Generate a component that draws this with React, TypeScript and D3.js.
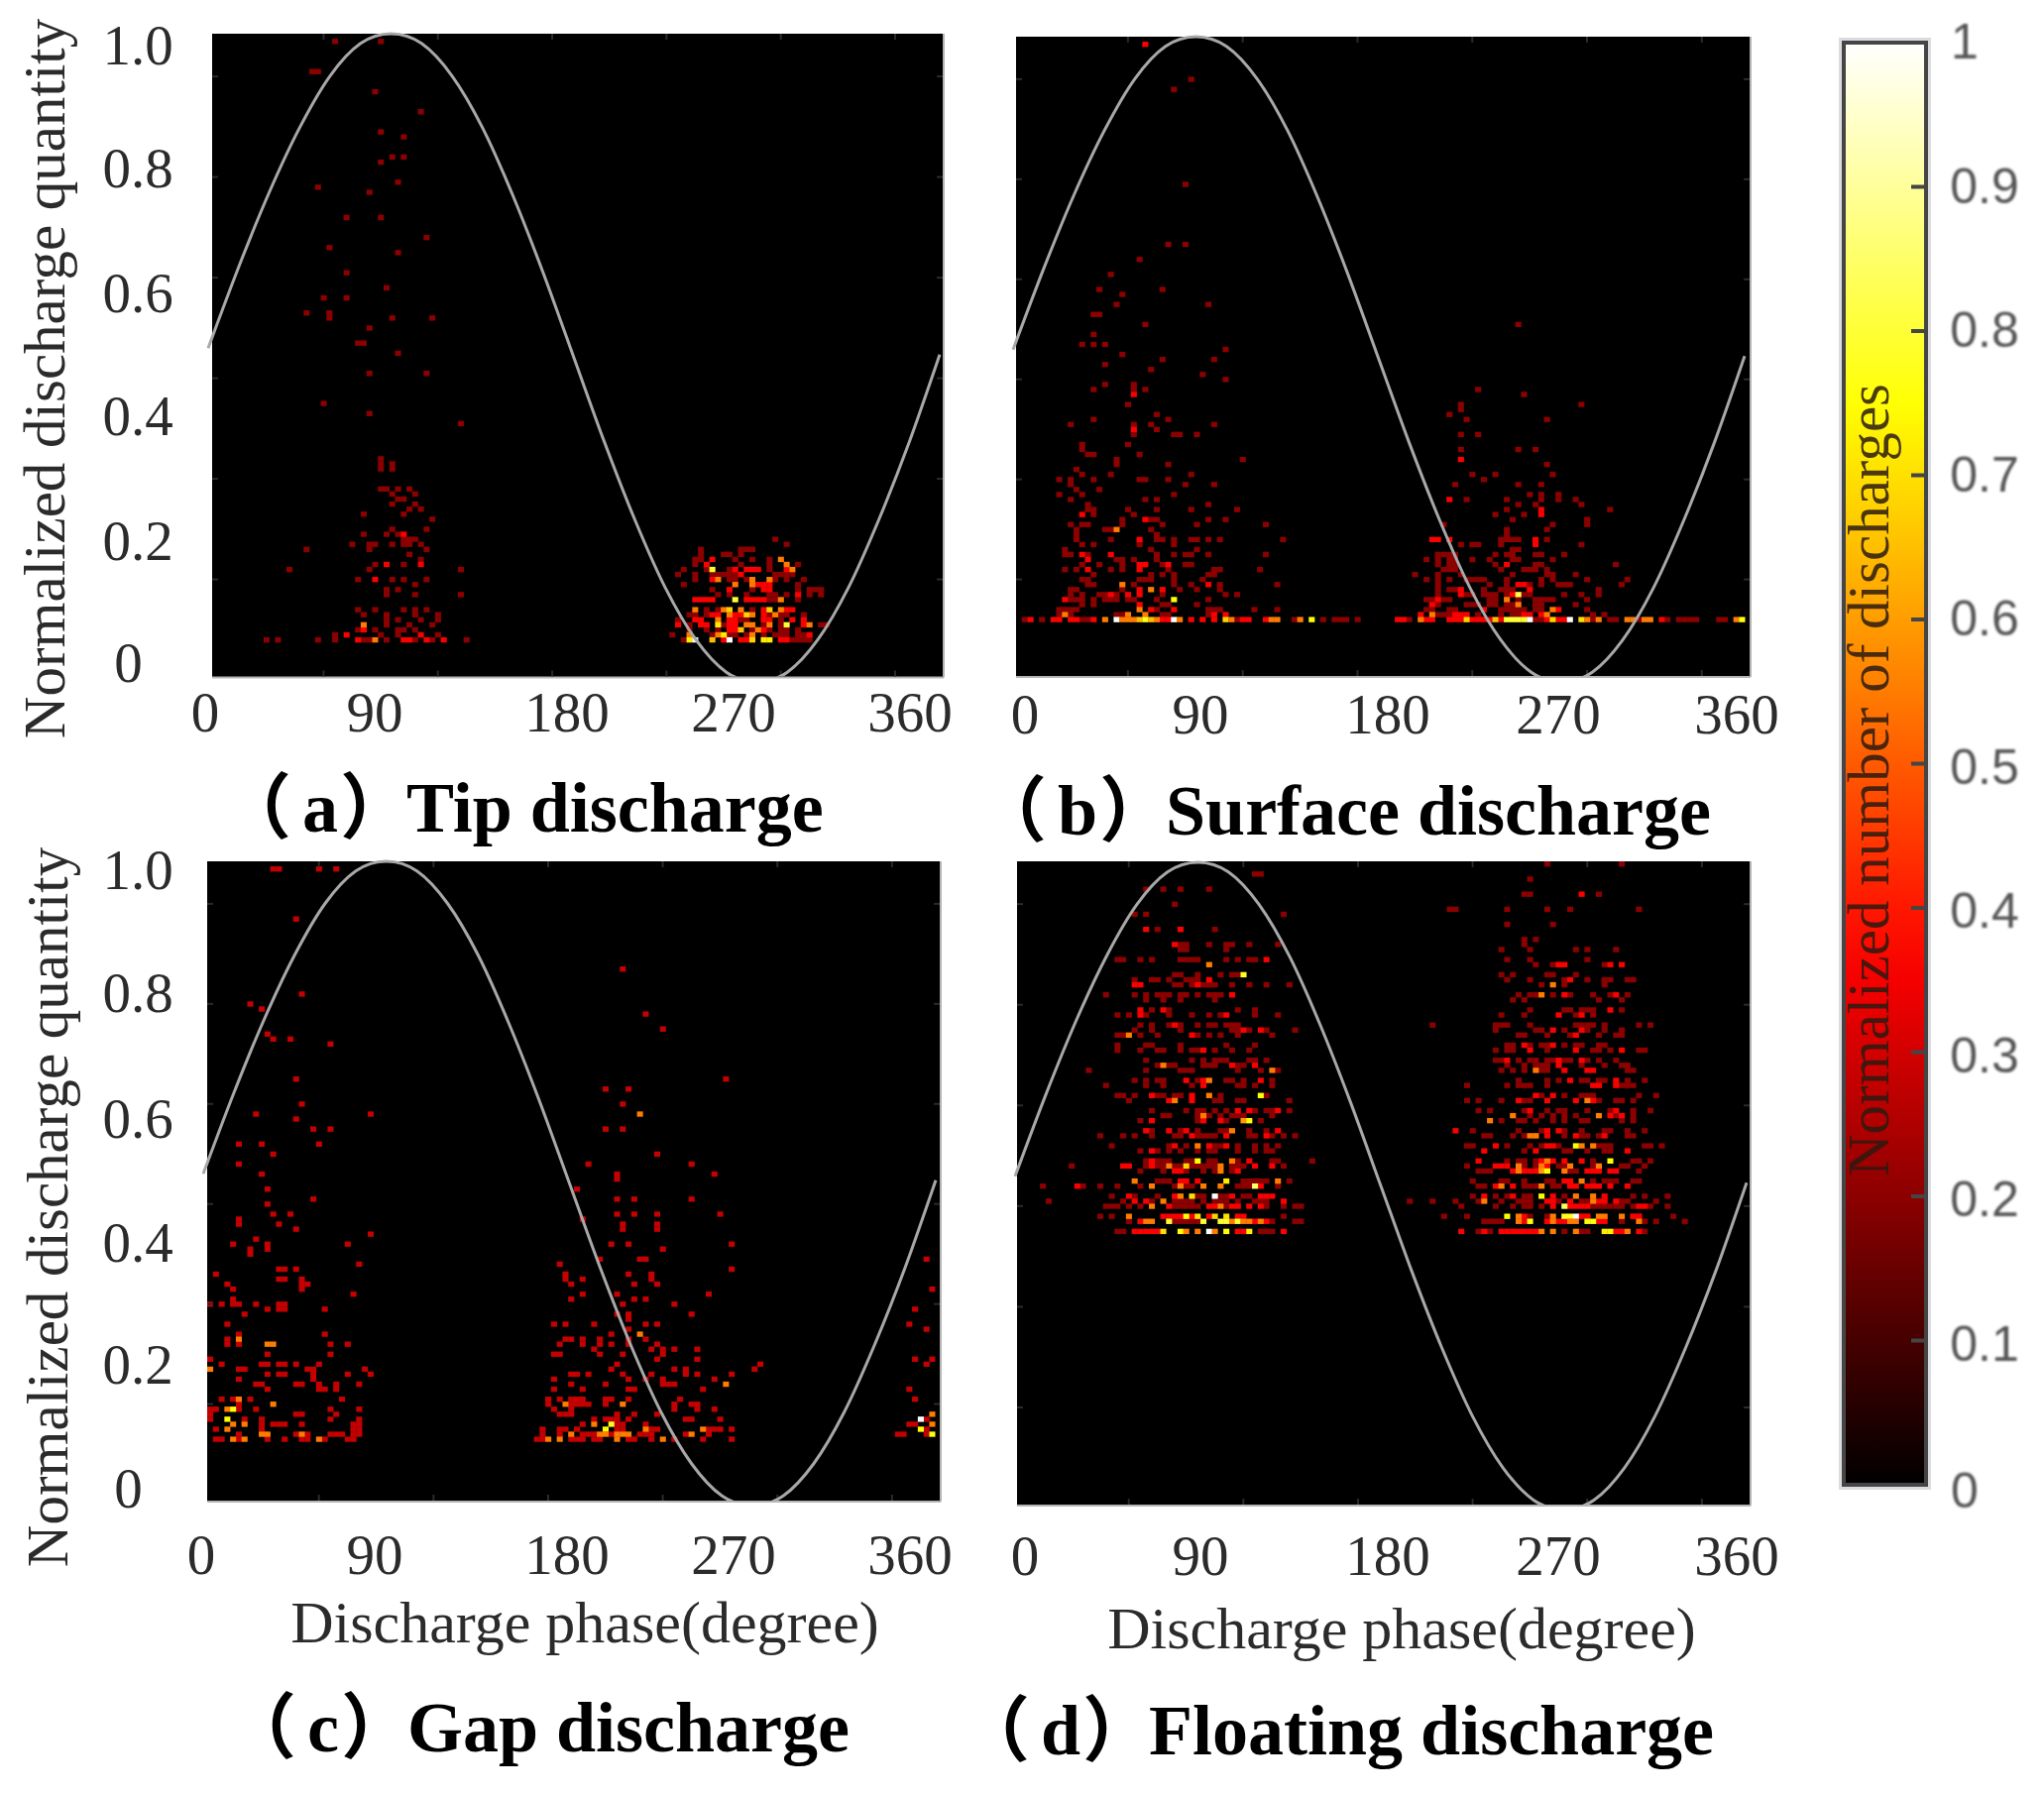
import * as React from "react";
import * as d3 from "d3";

// matrix size of the phase / quantity histogram
const binCount = 128;
const binIndex = d3.range(binCount);
const axisTickBins = [20, 40, 60, 80, 100, 120];

const phaseLabels = ["0", "90", "180", "270", "360"];
const quantityLabels = ["1.0", "0.8", "0.6", "0.4", "0.2", "0"];
const colorbarTicks = [0, 0.1, 0.2, 0.3, 0.4, 0.5, 0.6, 0.7, 0.8, 0.9, 1];

// reference voltage curve
const sinePhases = [0, 15, 30, 45, 60, 75, 90, 105, 120, 135, 150, 165, 180, 195, 210, 225, 240, 255, 270, 285, 300, 315, 330, 345, 360];
const sineLevels = [0.515, 0.64, 0.755, 0.855, 0.935, 0.985, 1, 0.985, 0.935, 0.855, 0.75, 0.63, 0.5, 0.37, 0.25, 0.145, 0.065, 0.015, 0, 0.015, 0.065, 0.145, 0.25, 0.37, 0.505];

// cells: [quantity bin, phase bin, phase bin, ...]
const tipDim = [
  [126, 21, 29], [120, 17, 18], [116, 28], [112, 36], [108, 29], [107, 33], [103, 31, 33], [102, 29], [98, 32], [97, 18], [96, 27], [91, 23, 29], [87, 37], [85, 20], [84, 32], [80, 23], [77, 30], [75, 19, 23], [72, 16, 20], [71, 20, 31, 38], [69, 27], [66, 25, 26], [64, 32], [60, 27, 37], [54, 19], [52, 27], [50, 43], [43, 29], [42, 29, 31], [41, 29, 31],
  [37, 29, 30, 32, 34], [36, 31, 35], [35, 32, 33], [34, 31, 35], [33, 34, 36], [32, 26, 33], [31, 38], [29, 31, 37], [28, 26, 30, 32], [27, 33, 34, 35], [26, 24, 27, 28, 31, 33, 34, 36], [25, 16, 27, 37], [24, 34], [23, 36], [22, 28, 33], [21, 13, 27, 43], [19, 25, 31, 33, 37], [18, 35], [17, 30, 32], [16, 30, 35, 43], [13, 25, 28, 33, 35, 37], [12, 26, 30, 35, 39], [11, 30, 32, 36, 39], [10, 30, 34, 38], [9, 25, 28, 32, 33, 35], [8, 21, 29, 32, 39], [7, 9, 11, 18, 21, 26, 27, 30, 35, 38, 44],
  [27, 98], [26, 100], [25, 85, 92, 93, 94], [24, 85, 89, 90, 92], [23, 84, 85, 91, 94, 97], [22, 84, 92, 97, 102], [21, 82, 86, 90, 97], [20, 81, 84, 87, 88, 89, 90, 91, 98, 99, 100, 101], [19, 84, 90, 91, 93, 98, 100, 103], [18, 82, 102], [17, 87, 94, 102, 104, 105, 106], [16, 88, 90, 93, 97, 98, 100, 104, 106], [15, 97, 98, 102], [13, 86, 88, 94], [12, 83, 84, 86, 97, 99, 100, 103], [11, 81, 92, 93, 99], [10, 83, 89, 96, 99, 106, 107], [9, 83, 86, 88, 94, 97, 99, 100, 102], [8, 80, 87, 90, 91, 93, 96, 98, 99, 100, 102, 103], [7, 82, 101, 102, 103, 104],
];
const tipRed = [
  [28, 33], [22, 30, 36], [19, 28], [9, 26], [8, 23, 36], [7, 25, 33, 34, 37, 40],
  [23, 87], [22, 86], [21, 91, 93, 94, 95, 100], [20, 92], [19, 87], [18, 95, 96, 97], [17, 90, 96, 97], [16, 102], [15, 84, 85, 86, 87, 93, 94, 95, 96], [13, 96, 100, 101], [12, 87, 88, 91, 92, 96], [11, 84, 85, 90, 91, 96, 97, 101, 103], [10, 81, 85, 86, 90, 91, 103], [9, 90, 91, 96], [8, 104], [7, 89, 92, 93, 99, 100],
];
// [quantity bin, phase bin, level]
const tipHot = [
  [10, 26, 0.55], [7, 28, 0.55],
  [23, 99, 0.55], [22, 100, 0.55], [21, 87, 0.78], [21, 101, 0.55], [19, 88, 0.55], [19, 94, 0.55], [19, 97, 0.55], [18, 91, 0.55], [18, 94, 0.55], [15, 91, 0.8], [15, 99, 0.55], [13, 84, 0.55], [13, 89, 0.55], [13, 90, 0.68], [13, 92, 0.55], [13, 97, 0.68], [13, 99, 0.55], [12, 90, 0.55], [12, 93, 0.68], [12, 94, 0.55], [12, 98, 0.55], [11, 88, 0.55], [10, 88, 0.72], [10, 93, 0.55], [10, 94, 0.55], [10, 97, 0.55], [10, 100, 0.8], [10, 104, 0.55], [9, 92, 0.65], [9, 95, 0.55], [8, 83, 0.55], [8, 88, 0.55], [8, 89, 0.72], [8, 94, 0.55], [7, 83, 0.72], [7, 84, 1], [7, 87, 0.65], [7, 90, 1], [7, 94, 0.68], [7, 96, 0.72], [7, 97, 0.72],
];

const surfaceDim = [
  [119, 30], [117, 27], [98, 29], [86, 26, 29], [83, 21], [80, 16], [77, 14, 25], [76, 18], [74, 17, 33], [72, 13, 14], [70, 22, 87],
  [68, 13], [66, 11, 13, 15], [65, 36], [64, 18], [63, 25, 34], [62, 15], [61, 23], [60, 32], [59, 36], [58, 15, 20], [57, 13, 20, 22], [54, 19], [52, 24], [51, 13, 26], [50, 9, 20, 23, 34], [49, 24], [48, 20, 27, 28, 31], [46, 11, 19], [45, 11], [44, 12, 13, 21], [43, 17, 39], [42, 17, 26], [41, 10], [40, 11, 16, 30], [39, 7, 9, 13, 21, 22, 26], [38, 9, 29, 34], [37, 10, 14], [36, 7, 11, 27], [35, 9, 22, 24], [34, 12, 33], [33, 12, 13, 19, 24, 30, 38], [32, 13, 20], [31, 18, 23, 24, 33, 36], [30, 9, 11, 12, 18, 25, 31, 43], [29, 10, 15, 16, 23], [28, 10, 24], [27, 10, 16, 24, 25, 27, 30, 31, 33, 35, 46], [26, 11, 13, 21, 27], [25, 8, 23, 31], [24, 8, 9, 12, 24, 27, 29, 30, 33, 43], [23, 17, 18, 20, 24], [22, 11, 14, 18, 25, 29, 30], [21, 8, 10, 16, 18, 26, 34, 35, 42], [20, 13, 23, 25, 27, 33, 34], [19, 11, 12, 21, 22, 23, 27, 32], [18, 12, 13, 20, 27, 30, 35, 45], [17, 9, 10, 18, 28, 31, 35], [16, 9, 11, 14, 15, 17, 25, 36, 38], [15, 9, 10, 11, 13, 15, 16, 17, 19, 20, 24, 33], [14, 11, 13, 25, 26, 31], [13, 7, 8, 9, 10, 24, 33, 34, 35, 41, 45], [12, 7, 9, 17, 18, 25, 26, 33], [11, 1, 4, 11, 12, 38, 48, 53, 55, 56, 57, 59],
  [57, 80], [56, 88], [54, 77, 98], [53, 77], [52, 75], [51, 78, 92], [48, 77, 80], [45, 77, 87, 90], [42, 92], [40, 79, 83, 93], [39, 81], [38, 76, 87, 91], [36, 89, 91, 94], [35, 78, 85, 91, 94, 97], [34, 87, 90, 98], [33, 85, 103], [32, 83, 88], [31, 86, 99], [30, 74, 93, 99], [29, 85, 92], [28, 85], [27, 84, 85, 86, 87, 92], [26, 77, 79, 80, 84, 98], [25, 86, 87], [24, 73, 74, 75, 76, 83, 85, 86, 90, 91, 95], [23, 71, 73, 75, 76, 79, 82, 86, 87, 93], [22, 73, 75, 76, 83, 90, 91, 104], [21, 74, 75, 76, 84, 88, 89, 90, 92], [20, 69, 73, 77, 86, 92, 93, 97], [19, 71, 73, 75, 78, 79, 80, 81, 85, 91, 93, 99, 106], [18, 73, 82, 85, 89, 91, 94, 95, 96, 105], [17, 73, 75, 76, 81, 84, 85, 86, 101], [16, 73, 78, 79, 81, 82, 83, 85, 88, 89, 95, 98, 101], [15, 71, 72, 74, 75, 82, 83, 87, 90, 91, 92, 93, 99], [14, 73, 78, 79, 80, 82, 83, 85, 86, 90, 91, 97], [13, 71, 72, 75, 76, 84, 85, 86, 87, 88, 90, 91, 99], [12, 73, 74, 75, 76, 80, 84, 86, 87, 100, 102], [11, 68, 90, 91, 100, 103, 104, 108, 113, 115, 116, 117, 118, 122, 123],
];
const surfaceRed = [
  [126, 22], [56, 20], [49, 20], [32, 11], [31, 22], [27, 21], [24, 11, 16], [23, 12], [22, 21, 22, 26], [21, 12, 21], [18, 33], [17, 21, 25], [16, 16, 19, 21], [15, 8], [14, 21], [13, 23, 27], [12, 34, 36], [11, 2, 6, 7, 9, 10, 13, 25, 26, 30, 32, 34, 39, 40, 43],
  [43, 77], [35, 75], [33, 91], [32, 91], [27, 72, 73, 75, 90], [26, 90], [22, 85], [18, 87, 88], [17, 77, 89], [16, 77, 86], [15, 73], [14, 72], [13, 81, 94], [12, 70, 76, 77, 78, 88, 89, 91], [11, 66, 67, 71, 72, 75, 76, 77, 79, 80, 81, 82, 84, 92, 94, 95, 112],
];
const surfaceHot = [
  [29, 17, 0.55], [18, 18, 0.55], [17, 23, 0.55], [15, 27, 0.75], [13, 21, 0.55], [12, 8, 0.55], [12, 19, 0.55], [12, 22, 0.55],
  [11, 15, 0.55], [11, 17, 1], [11, 18, 0.55], [11, 19, 0.55], [11, 20, 0.55], [11, 21, 0.65], [11, 22, 0.78], [11, 23, 0.65], [11, 24, 0.55], [11, 27, 1], [11, 28, 0.55], [11, 36, 0.68], [11, 37, 0.55], [11, 44, 0.55], [11, 45, 0.55], [11, 49, 0.55], [11, 51, 0.75],
  [16, 87, 0.82], [15, 85, 0.55], [14, 87, 0.55], [13, 93, 0.55], [12, 72, 0.55], [12, 92, 0.55],
  [11, 70, 0.55], [11, 78, 0.68], [11, 83, 0.65], [11, 85, 0.8], [11, 86, 0.8], [11, 87, 0.8], [11, 88, 0.78], [11, 89, 1], [11, 93, 0.68], [11, 96, 1], [11, 98, 0.7], [11, 99, 0.55], [11, 101, 0.55], [11, 106, 0.55], [11, 107, 0.55], [11, 109, 0.55], [11, 110, 0.55], [11, 125, 0.55], [11, 126, 0.75],
];

const gapDim = [
  [126, 11, 12, 19, 22], [116, 15], [101, 16], [99, 7], [98, 9], [93, 10], [92, 11, 14], [91, 21], [84, 15], [79, 16], [77, 8, 28], [76, 15], [74, 18, 21], [71, 5, 9, 19], [69, 11], [67, 5], [65, 9], [62, 10], [60, 18], [59, 10], [57, 11, 14], [56, 5], [55, 5, 12],
  [106, 72], [97, 76], [94, 79], [84, 90], [82, 69, 73], [79, 72], [74, 69, 72], [69, 78], [67, 66, 84], [65, 88, 71], [64, 71], [62, 64], [60, 84, 71, 74], [57, 71, 74, 78, 89], [56, 65], [55, 72, 78],
  [54, 15, 72, 78], [53, 28], [52, 8], [51, 4, 10, 24, 70, 73, 91], [50, 7, 10, 79], [49, 7], [48, 68, 75, 76], [47, 26, 61], [46, 12, 13, 15, 91], [45, 1, 62, 73, 77], [44, 12, 13, 16, 62, 65, 77], [43, 3, 16, 17, 63, 74, 78], [42, 4, 16], [41, 25, 65, 71, 87], [40, 4, 63, 74, 76], [39, 0, 2, 4, 5, 8, 12, 13, 72, 81], [38, 10, 12, 13, 20], [37, 6, 71, 73, 84], [36, 73], [35, 3, 60, 62, 67, 76, 78], [34, 73], [33, 5, 20, 70], [32, 3, 62, 63, 65, 68, 73, 76], [31, 3, 5, 21, 24, 61, 65, 68, 70, 73, 78], [30, 67, 77, 79, 81, 85], [29, 10, 21, 60, 61, 68, 72, 79], [28, 0, 78, 85], [27, 2, 9, 10, 12, 13, 15, 19, 71, 96], [26, 5, 6, 17, 18, 27, 70, 81, 83, 95], [25, 10, 12, 13, 18, 24, 28, 63, 64, 66, 72, 77, 83, 85, 91], [24, 5, 18, 60, 73, 76, 79, 88], [23, 8, 9, 15, 16, 19, 22, 26, 63, 69, 79, 80, 81], [22, 10, 19, 20, 22, 60, 65, 73, 74, 86], [20, 2, 4, 7, 23, 59, 61, 63, 64, 65, 69, 70, 73, 82], [19, 5, 59, 63, 64, 65, 66, 69, 81, 84, 85], [18, 0, 1, 5, 8, 21, 26, 60, 63, 81, 85, 88], [17, 0, 15, 16, 22, 61, 62, 63, 71, 74, 78], [16, 0, 6, 9, 21, 26, 67, 69, 70, 71, 73, 83, 84, 89], [15, 9, 11, 12, 13, 16, 25, 26, 65, 71, 72, 76], [14, 1, 9, 25, 26, 58, 61, 62, 64, 71, 72, 77, 78, 87, 88, 89, 91], [13, 5, 15, 17, 21, 22, 23, 25, 26, 58, 61, 65, 66, 67, 70, 75, 76, 77, 83, 87], [12, 1, 2, 5, 10, 13, 16, 17, 20, 24, 25, 57, 58, 63, 64, 65, 68, 67, 73, 74, 77, 81, 86, 91],
  [48, 125], [42, 126], [38, 123], [35, 122], [34, 125], [28, 123, 126], [27, 125], [22, 122], [20, 123], [16, 125], [15, 122, 123], [14, 125], [13, 120, 121, 125],
];
const gapRed: number[][] = [];
const gapHot = [
  [33, 75, 0.55], [32, 5, 0.55], [31, 10, 0.55], [31, 11, 0.55], [77, 75, 0.55], [26, 0, 0.55], [23, 90, 0.55], [20, 5, 0.55], [19, 11, 0.55], [19, 62, 0.55], [19, 72, 0.55], [18, 3, 0.55], [18, 4, 0.76], [16, 3, 0.75], [15, 4, 0.55], [15, 6, 0.55], [15, 67, 0.55], [15, 70, 0.78], [14, 3, 0.55], [14, 69, 0.75], [14, 76, 0.55], [14, 86, 0.55], [13, 9, 0.55], [13, 10, 0.55], [13, 16, 0.55], [13, 63, 0.55], [13, 68, 0.55], [13, 69, 0.55], [13, 71, 0.55], [13, 72, 0.55], [13, 73, 0.55], [13, 84, 0.55], [12, 4, 0.55], [12, 6, 0.55], [12, 19, 0.55], [12, 59, 0.55], [12, 61, 0.55], [12, 71, 0.55], [12, 79, 0.55],
  [16, 124, 1], [17, 126, 0.55], [15, 126, 0.55], [14, 124, 0.76], [13, 126, 0.76],
];

const floatingDim = [
  [127, 92, 105], [125, 41, 42], [122, 22, 25, 28, 33], [119, 27], [117, 20, 22, 46], [114, 24, 34], [111, 28, 29, 33, 36, 37, 40, 45], [110, 28, 29, 36], [108, 17, 18, 21, 23, 28, 29, 30, 31, 36, 38, 40, 41], [105, 27, 28, 31, 35, 37, 38], [104, 20, 23, 24, 26, 29, 30, 31], [103, 27, 28, 30, 32, 33, 34, 37, 40, 43, 47], [101, 15, 20, 22, 24, 25, 26, 28, 29, 31, 33, 34, 35], [100, 22, 25, 28, 34], [98, 23, 26, 38, 41], [97, 17, 19, 22, 26, 30, 33, 35, 41, 45], [95, 21, 23, 26, 28, 31, 33, 34, 36, 37, 38], [94, 20, 23, 28, 37, 38, 40, 43, 48], [93, 17, 18, 21, 24, 31, 33, 35, 38, 44], [91, 17, 22, 23, 28, 36, 41], [90, 17, 21, 24, 25, 28, 30, 31, 34, 37, 40], [88, 22, 30, 32, 34, 35, 36, 40, 41, 43], [87, 24, 26, 27, 32, 33, 34, 38, 39], [86, 12, 22, 28, 29, 30, 38, 42, 45], [84, 20, 22, 24, 25, 31, 36, 37, 39, 44], [83, 15, 22, 25, 30, 38, 39, 41, 44], [81, 17, 18, 20, 24, 25, 27, 28, 35, 43], [80, 19, 34, 35, 38, 39, 47], [78, 23, 29, 31, 32, 34, 36, 41, 43, 44, 47], [77, 25, 26, 31, 33, 35, 37, 38, 39, 44], [76, 21, 31, 36, 42], [74, 23, 28, 31, 35, 36, 40, 43], [73, 14, 18, 20, 23, 27, 28, 31, 32, 33, 34, 40, 41, 44, 46, 48], [71, 16, 26, 29, 34, 35, 38, 41, 43, 45], [70, 21, 24, 26, 28, 31, 33, 34, 38, 41, 43, 44], [68, 22, 24, 25, 26, 29, 30, 33, 34, 38, 44, 45, 51], [67, 9, 22, 24, 25, 27, 28, 30, 31, 32, 33, 34, 37, 38, 39, 46], [66, 21, 25, 29, 32, 34, 37], [64, 24, 25, 26, 39, 40, 41, 42, 43, 47], [63, 4, 11, 14, 17, 21, 27, 29, 30, 38, 39, 40, 45], [61, 16, 20, 24, 31, 32, 35, 36, 39, 40], [60, 5, 18, 23, 27, 28, 29, 30, 32, 34, 35, 36, 38, 41, 42, 43], [59, 15, 16, 17, 19, 21, 27, 28, 29, 30, 31, 36, 43, 46, 48, 49], [57, 14, 16, 46], [56, 19, 27, 28, 29, 30, 31, 44, 48, 49], [54, 17, 18, 42, 43, 44],
  [124, 89], [121, 88, 89, 101], [118, 75, 76, 85, 92, 96, 108], [115, 85, 93], [112, 88, 90], [111, 88], [110, 84, 89, 97, 99, 104], [108, 85, 89, 99], [107, 90, 93, 102, 94], [105, 84, 86, 92, 93, 97], [104, 85, 89, 95, 99, 102, 103, 106, 107], [103, 91, 95, 102], [101, 87, 89, 90, 93, 96, 100, 103, 106], [100, 86, 88, 101, 105], [98, 89, 95, 96, 98, 99, 100, 105], [97, 84, 88, 97, 100], [95, 72, 83, 84, 85, 89, 97, 98, 99, 100, 102, 108, 110], [94, 83, 90, 91, 95, 99, 102, 105], [93, 87, 88, 92, 96, 101, 104, 105], [91, 85, 86, 89, 91, 92, 95, 97, 98, 101, 102], [90, 83, 85, 86, 92, 100, 101, 103, 108, 109], [88, 83, 84, 87, 89, 90, 92, 93, 95, 96, 99, 101, 104], [87, 85, 88, 90, 91, 92, 98, 102, 105, 106], [86, 84, 86, 88, 91, 92, 106, 107], [84, 87, 92, 94, 98, 99, 101, 102, 106, 109], [83, 78, 85, 87, 88, 89, 92, 105, 106, 107], [81, 91, 95, 98, 99, 100, 108, 111], [80, 78, 80, 84, 88, 89, 101, 104, 105, 107], [78, 80, 82, 88, 92, 94, 95, 99, 103, 107, 110], [77, 89, 91, 93, 95, 97, 104, 107], [76, 84, 87, 88, 90, 93, 95, 98, 99, 105, 107], [74, 79, 87, 91, 95, 98, 102, 103, 106, 109], [73, 81, 82, 86, 88, 90, 95, 98, 99, 101, 106, 107], [71, 78, 79, 85, 89, 91, 94, 101, 102, 103, 109, 110, 112], [70, 88, 95, 96, 99, 102, 103], [68, 85, 87, 88, 90, 100, 107, 108, 110], [67, 78, 88, 90, 94, 95, 100, 105, 106, 109], [66, 80, 81, 82, 96, 97, 108], [64, 79, 84, 85, 88, 92, 93, 100, 102, 103, 104, 107, 108], [63, 80, 81, 88, 89, 90, 93, 94], [61, 79, 83, 85, 88, 89, 95, 107, 109, 113], [60, 68, 72, 76, 80, 84, 87, 88, 89, 94, 98, 99, 105, 106, 111], [59, 77, 83, 86, 88, 89, 91, 100, 101, 102, 103, 104, 105, 107, 110, 113], [57, 74, 78, 89, 92, 98, 99, 107, 108, 114], [56, 81, 82, 83, 84, 105, 109, 111, 116], [54, 80, 82, 95, 98, 99, 109],
];
const floatingRed = [
  [114, 22, 28], [111, 27], [108, 43], [104, 33], [103, 20, 21, 31], [101, 37], [98, 21, 25], [97, 21, 36], [95, 27], [94, 39, 42], [93, 30], [90, 32], [87, 37, 41], [84, 29, 32, 42], [83, 32], [81, 23, 30], [80, 26, 30], [78, 38, 40, 45], [76, 23, 32, 35], [74, 22, 26, 29, 45], [73, 30, 36, 43], [71, 27, 33, 36], [70, 23], [68, 23, 40], [67, 18, 19, 23, 41, 44], [66, 27, 28, 38], [64, 28, 29, 31], [63, 10, 42], [61, 19, 27, 37, 42, 43, 44], [60, 20, 22, 46], [59, 26, 33, 34, 37, 38, 40, 42], [57, 25, 26, 27, 28, 30, 33, 38, 39], [56, 21, 41, 43], [54, 20, 21, 22, 23, 24, 38, 39, 46],
  [121, 98], [107, 94, 95, 103, 105], [104, 96], [101, 95, 104], [98, 103], [97, 94, 98], [94, 93, 98], [93, 97], [91, 88, 93], [90, 89, 97, 105], [88, 85, 94, 98], [87, 94], [86, 95, 99, 100], [84, 96, 104], [83, 100, 101, 104], [81, 90, 93], [80, 87, 92, 97, 100], [78, 89, 104], [77, 103, 105], [74, 76, 92, 94], [73, 92, 97, 102], [71, 83, 92, 93], [70, 81, 90, 106], [68, 80, 91, 93, 95, 98], [67, 83, 84, 85, 92], [66, 86, 88, 89, 90, 99, 100, 101, 103, 104], [64, 95, 96], [63, 83, 86, 96, 97, 99, 100, 101, 103, 106], [61, 81, 86, 93, 102], [60, 92, 93, 96, 101, 102, 104], [59, 93, 96, 97, 98, 99, 108, 109], [57, 88, 98, 99, 107, 108], [56, 88, 92, 94, 95, 101, 102], [54, 77, 81, 84, 85, 86, 87, 88, 89, 90, 104, 105, 108],
];
const floatingHot = [
  [107, 33, 0.55], [105, 39, 0.78], [93, 19, 0.55], [87, 25, 0.55], [86, 44, 0.55], [84, 33, 0.55], [81, 33, 0.55], [81, 42, 0.75], [80, 27, 0.55], [77, 32, 0.55], [76, 39, 0.6], [76, 40, 0.75], [74, 37, 0.55], [71, 31, 0.55], [68, 31, 0.75], [68, 37, 0.55], [67, 26, 0.55], [67, 29, 0.68], [67, 35, 0.55], [66, 35, 0.55], [64, 20, 0.55], [64, 36, 0.72], [64, 45, 0.55], [63, 23, 0.55], [63, 28, 0.55], [63, 32, 0.55], [63, 35, 0.55], [63, 41, 0.85], [61, 28, 0.55], [61, 30, 0.7], [61, 34, 1], [60, 25, 0.55], [59, 23, 0.55], [59, 35, 0.55], [57, 19, 0.55], [57, 29, 0.75], [57, 31, 0.7], [57, 34, 0.68], [57, 36, 0.7], [56, 22, 0.55], [56, 23, 0.55], [56, 26, 0.8], [56, 32, 0.8], [56, 35, 0.8], [56, 36, 0.8], [56, 37, 0.55], [56, 38, 0.8], [56, 39, 0.55], [56, 40, 0.55], [56, 42, 0.55], [54, 25, 0.7], [54, 28, 0.75], [54, 29, 0.55], [54, 31, 0.55], [54, 33, 1], [54, 34, 0.55], [54, 36, 0.75], [54, 40, 0.72],
  [103, 93, 0.55], [101, 91, 0.55], [86, 90, 0.55], [80, 99, 0.55], [77, 86, 0.55], [77, 101, 0.55], [76, 82, 0.55], [73, 89, 0.55], [73, 90, 0.55], [71, 97, 0.75], [71, 98, 0.55], [71, 100, 0.55], [68, 92, 0.55], [68, 103, 0.75], [67, 87, 0.55], [67, 91, 0.55], [67, 96, 0.55], [67, 101, 0.55], [66, 87, 0.55], [66, 91, 0.6], [66, 92, 0.75], [66, 95, 0.55], [64, 98, 0.55], [63, 84, 0.55], [63, 91, 0.55], [61, 91, 0.75], [61, 97, 0.55], [61, 100, 0.55], [60, 81, 0.55], [60, 100, 0.55], [59, 95, 0.85], [57, 85, 0.75], [57, 87, 0.55], [57, 93, 0.55], [57, 95, 0.78], [57, 96, 0.78], [57, 97, 1], [57, 101, 0.55], [57, 102, 0.55], [57, 105, 0.55], [56, 87, 0.55], [56, 89, 0.76], [56, 93, 0.55], [56, 96, 0.55], [56, 97, 0.55], [56, 99, 0.76], [56, 100, 0.76], [56, 108, 0.55], [54, 91, 0.55], [54, 93, 0.55], [54, 97, 0.55], [54, 102, 0.72], [54, 103, 0.72], [54, 106, 0.55],
];

const hotColor = d3.scaleLinear<string>().domain([0, 0.365, 0.746, 1]).range(["#000000", "#ff0000", "#ffff00", "#ffffff"]);

const serif = "'Liberation Serif', 'Noto Sans CJK SC', serif";
const textColor = "#2b2b2b";

const panels = [
  {
    id: "tip", dim: tipDim, red: tipRed, hot: tipHot, dimLevel: 0.2,
    x0: 214, x1: 952, y0: 34, y1: 683.5, sineX0: 210, sineX1: 948, sineY0: 34, sineY1: 688,
    phaseX: [207, 378, 572, 740, 918], phaseY: 719,
    quantityY: [46, 170, 296, 420, 546, 669], showQuantity: true,
    labelY: 22 + 360, labelX: 65, phaseTitle: null,
    tag: "a", title: "Tip discharge", titleX: 230, titleY: 839,
  },
  {
    id: "surface", dim: surfaceDim, red: surfaceRed, hot: surfaceHot, dimLevel: 0.2,
    x0: 1025, x1: 1766, y0: 37, y1: 683, sineX0: 1022, sineX1: 1760, sineY0: 37, sineY1: 688,
    phaseX: [1034, 1211, 1400, 1572, 1752], phaseY: 721,
    quantityY: [], showQuantity: false,
    labelY: 0, labelX: 0, phaseTitle: null,
    tag: "b", title: "Surface discharge", titleX: 992, titleY: 842,
  },
  {
    id: "gap", dim: gapDim, red: gapRed, hot: gapHot, dimLevel: 0.28,
    x0: 209, x1: 949, y0: 869, y1: 1515, sineX0: 205, sineX1: 944, sineY0: 869, sineY1: 1519,
    phaseX: [203, 378, 572, 740, 918], phaseY: 1569,
    quantityY: [878, 1002, 1129, 1254, 1377, 1502], showQuantity: true,
    labelY: 857 + 361, labelX: 68, phaseTitle: { x: 590, y: 1657 },
    tag: "c", title: "Gap discharge", titleX: 235, titleY: 1767,
  },
  {
    id: "floating", dim: floatingDim, red: floatingRed, hot: floatingHot, dimLevel: 0.2,
    x0: 1026, x1: 1766, y0: 869, y1: 1519, sineX0: 1024, sineX1: 1762, sineY0: 870, sineY1: 1523,
    phaseX: [1034, 1211, 1400, 1572, 1752], phaseY: 1570,
    quantityY: [], showQuantity: false,
    labelY: 0, labelX: 0, phaseTitle: { x: 1414, y: 1663 },
    tag: "d", title: "Floating discharge", titleX: 975, titleY: 1770,
  },
];

function Panel({ p }: { p: (typeof panels)[number] }) {
  const x = d3.scaleBand<number>().domain(binIndex).range([p.x0, p.x1]);
  const y = d3.scaleBand<number>().domain(binIndex).range([p.y1, p.y0]);
  const sineX = d3.scaleLinear().domain([0, 360]).range([p.sineX0, p.sineX1]);
  const sineY = d3.scaleLinear().domain([0, 1]).range([p.sineY1, p.sineY0]);
  const sine = d3.line<number>()
    .x((_, i) => sineX(sinePhases[i]))
    .y((d) => sineY(d))
    .curve(d3.curveCardinal.tension(0.1));

  const cells: { row: number; col: number; level: number }[] = [];
  p.dim.forEach(([row, ...cols]) => cols.forEach((col) => cells.push({ row, col, level: p.dimLevel })));
  p.red.forEach(([row, ...cols]) => cols.forEach((col) => cells.push({ row, col, level: 0.36 })));
  p.hot.forEach(([row, col, level]) => cells.push({ row, col, level }));

  return (
    <g>
      <rect x={p.x0} y={p.y0} width={p.x1 - p.x0} height={p.y1 - p.y0} fill="#000" />
      {cells.map((c, i) => (
        <rect key={i} x={x(c.col)} y={y(c.row)} width={x.bandwidth() + 0.3} height={y.bandwidth() + 0.3} fill={hotColor(c.level)} />
      ))}
      <line x1={p.x1} x2={p.x1} y1={p.y0} y2={p.y1} stroke="#b5b5b5" strokeWidth={2} />
      <line x1={p.x0} x2={p.x1} y1={p.y1} y2={p.y1} stroke="#b5b5b5" strokeWidth={2} />
      {axisTickBins.map((t) => (
        <g key={t} stroke="#2a2a2a" strokeWidth={2}>
          <line x1={x(t - 1)! + x.bandwidth() / 2} x2={x(t - 1)! + x.bandwidth() / 2} y1={p.y1 - 1} y2={p.y1 - 7} />
          <line x1={x(t - 1)! + x.bandwidth() / 2} x2={x(t - 1)! + x.bandwidth() / 2} y1={p.y0} y2={p.y0 + 6} />
          <line x1={p.x0} x2={p.x0 + 6} y1={y(t - 1)! + y.bandwidth() / 2} y2={y(t - 1)! + y.bandwidth() / 2} />
          <line x1={p.x1 - 1} x2={p.x1 - 7} y1={y(t - 1)! + y.bandwidth() / 2} y2={y(t - 1)! + y.bandwidth() / 2} />
        </g>
      ))}
      <clipPath id={`clip-${p.id}`}>
        <rect x={p.x0 - 20} y={p.y0 - 2} width={p.x1 - p.x0 + 40} height={p.y1 - p.y0 + 1} />
      </clipPath>
      <path d={sine(sineLevels) ?? ""} fill="none" stroke="#a8a8a8" strokeWidth={3} clipPath={`url(#clip-${p.id})`} />

      {phaseLabels.map((t, i) => (
        <text key={t} x={p.phaseX[i]} y={p.phaseY + 19} fontSize={57} textAnchor="middle" fontFamily={serif} fill={textColor}>{t}</text>
      ))}
      {p.showQuantity && quantityLabels.map((t, i) => (
        <text key={t} x={t === "0" ? 129.5 : 139} y={p.quantityY[i] + 19} fontSize={57} textAnchor="middle" fontFamily={serif} fill={textColor}>{t}</text>
      ))}
      {p.showQuantity && (
        <text transform={`translate(${p.labelX},${p.labelY}) rotate(-90)`} fontSize={59} textAnchor="middle" fontFamily={serif} fill={textColor}>Normalized discharge quantity</text>
      )}
      {p.phaseTitle && (
        <text x={p.phaseTitle.x} y={p.phaseTitle.y} fontSize={60} textAnchor="middle" fontFamily={serif} fill={textColor}>Discharge phase(degree)</text>
      )}
      <text x={p.titleX} y={p.titleY} fontSize={72} fontWeight="bold" fontFamily={serif} fill="#000">
        <tspan dx={-8}>（</tspan>
        <tspan dx={11}>{p.tag}</tspan>
        <tspan dx={2}>）</tspan>
        <tspan dx={-5}>{p.title}</tspan>
      </text>
    </g>
  );
}

function Colorbar() {
  const x0 = 1860;
  const x1 = 1943;
  const barY = d3.scaleLinear().domain([0, 1]).range([1498, 43]);
  const stops = d3.range(0, 1.001, 0.05);
  return (
    <g>
      <defs>
        <linearGradient id="hot-bar" x1="0" y1="1" x2="0" y2="0">
          {stops.map((s) => (
            <stop key={s} offset={s} stopColor={hotColor(s)} />
          ))}
        </linearGradient>
        <filter id="soft"><feGaussianBlur stdDeviation="0.9" /></filter>
      </defs>
      <rect x={x0} y={barY(1)} width={x1 - x0} height={barY(0) - barY(1)} fill="none" stroke="#dcdce0" strokeWidth={10} />
      <rect x={x0} y={barY(1)} width={x1 - x0} height={barY(0) - barY(1)} fill="url(#hot-bar)" stroke="#454545" strokeWidth={4} />
      {colorbarTicks.slice(1, -1).map((t) => (
        <line key={t} x1={x1 - 15} x2={x1} y1={barY(t)} y2={barY(t)} stroke="#454545" strokeWidth={4} />
      ))}
      <g filter="url(#soft)">
        {colorbarTicks.map((t) => (
          <text key={t} x={t === 0 || t === 1 ? 1982 : 2002} y={barY(t) + (t > 0.5 ? 16 : 20) + (t === 0 ? 3 : 0)} fontSize={50} textAnchor="middle" fontFamily="'Liberation Sans', Arial, sans-serif" fill="#555">
            {String(t)}
          </text>
        ))}
      </g>
      <text transform="translate(1905,1187) rotate(-90)" fontSize={59} fontFamily={serif} fill="#2b1a10" fillOpacity={0.85}>Normalized number of discharges</text>
    </g>
  );
}

export default function App() {
  return (
    <svg width={2062} height={1811} viewBox="0 0 2062 1811" style={{ position: "absolute", left: 0, top: 0, display: "block", background: "#fff" }}>
      {panels.map((p) => (
        <Panel key={p.id} p={p} />
      ))}
      <Colorbar />
    </svg>
  );
}
